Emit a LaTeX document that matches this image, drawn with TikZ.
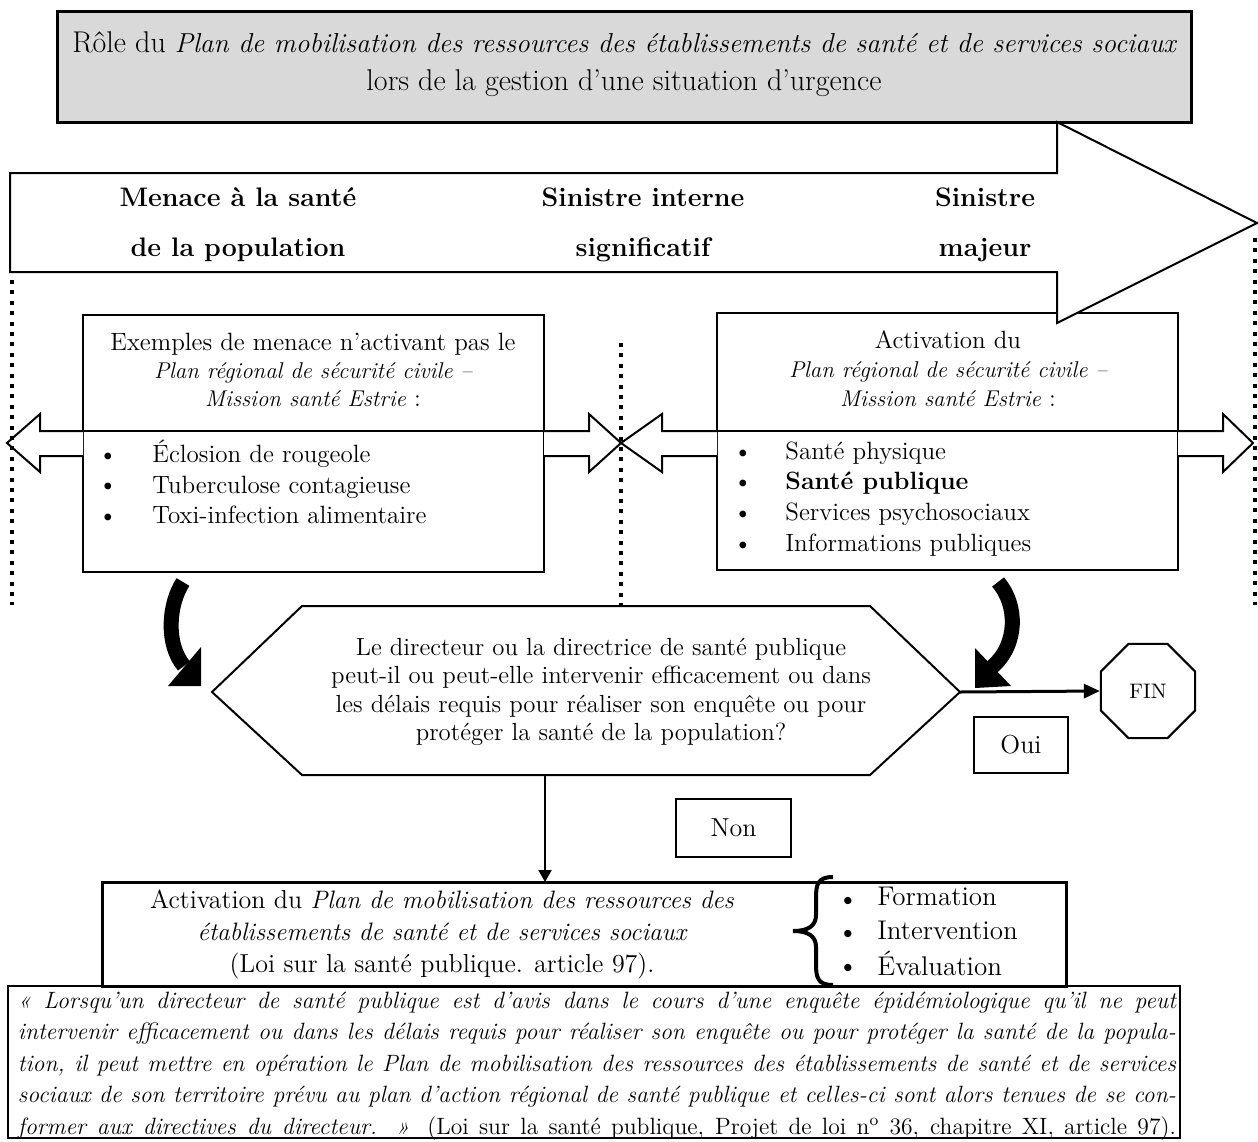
\documentclass[tikz,border=0pt]{standalone}
\usepackage{fontspec}
\usetikzlibrary{shapes.geometric,arrows.meta}
\definecolor{titlegray}{RGB}{217,217,217}
\newcommand{\fsz}[2]{\fontsize{#1}{#2}\selectfont}
\newcommand{\qline}[1]{\makebox[579pt][s]{\spaceskip=0pt\xspaceskip=0pt\strut #1}}
\tikzset{
  box/.style={draw=black,line width=1pt},
  thickbox/.style={draw=black,line width=1.5pt},
  blockarrow/.style={draw=black,line width=1pt,fill=white,line join=miter},
  dotline/.style={line width=2pt,dash pattern=on 2pt off 3.2pt},
  curvedshaft/.style={line width=7.5pt},
  txt/.style={inner sep=0pt,align=center},
  listtxt/.style={inner sep=0pt,align=left,anchor=west},
}
\begin{document}
\begin{tikzpicture}[x=0.5pt,y=-0.5pt]
\useasboundingbox (0,0) rectangle (1258,1141);
% title
\draw[thickbox,fill=titlegray] (57,11) rectangle (1191,122);
\node[txt,font={\fsz{15}{19}}] (title) at (624,64)
  {Rôle du {\fsz{13.7}{19}\itshape Plan de mobilisation des ressources des établissements de santé et de services sociaux}\\lors de la gestion d’une situation d’urgence};
% boxes
\draw[box] (83,315) rectangle (544,572);
\draw[box] (83,431) -- (544,431);
\draw[box] (717,313) rectangle (1178,570);
\draw[box] (717,431) -- (1178,431);
% big arrow
\draw[blockarrow] (10,173) -- (1057,173) -- (1057,122) -- (1257,223) -- (1057,323) -- (1057,272) -- (10,272) -- cycle;
\node[txt,font={\bfseries\fsz{13.4}{25}}] (h1) at (238,225) {Menace à la santé\\de la population};
\node[txt,font={\bfseries\fsz{13.4}{25}}] (h2) at (643,225) {Sinistre interne\\significatif};
\node[txt,font={\bfseries\fsz{13.4}{25}}] (h3) at (985,225) {Sinistre\\majeur};
% small block arrows
\draw[blockarrow] (83,431) -- (40,431) -- (40,414) -- (7,443) -- (40,472) -- (40,456) -- (83,456);
\draw[blockarrow] (544,431) -- (589,431) -- (589,414) -- (621,443) -- (589,472) -- (589,456) -- (544,456);
\draw[blockarrow] (717,431) -- (662,431) -- (662,414) -- (621,443) -- (662,472) -- (662,456) -- (717,456);
\draw[blockarrow] (1178,431) -- (1223,431) -- (1223,414) -- (1253,443) -- (1223,472) -- (1223,456) -- (1178,456);
% box texts
\node[txt,font={\fsz{12.5}{14}}] (lhead) at (313,370)
  {Exemples de menace n’activant pas le\\{\fsz{11.4}{14}\itshape Plan régional de sécurité civile –}\\{\fsz{11.4}{14}\itshape Mission santé Estrie} :};
\node[listtxt,anchor=center,align=center,font={\fsz{12.5}{15.25}}] (lbul) at (108,486.5)
  {\strut\textbullet\\\strut\textbullet\\\strut\textbullet};
\node[listtxt,font={\fsz{12.5}{15.25}}] (llist) at (152,486.5)
  {\strut Éclosion de rougeole\\\strut Tuberculose contagieuse\\\strut Toxi-infection alimentaire};
\node[txt,font={\fsz{12.5}{14.5}}] (rhead) at (948,369)
  {Activation du\\{\fsz{11.4}{14.5}\itshape Plan régional de sécurité civile –}\\{\fsz{11.4}{14.5}\itshape Mission santé Estrie} :};
\node[listtxt,anchor=center,align=center,font={\fsz{12.5}{15.35}}] (rbul) at (743,499)
  {\strut\textbullet\\\strut\textbullet\\\strut\textbullet\\\strut\textbullet};
\node[listtxt,font={\fsz{12.5}{15.35}}] (rlist) at (785,499)
  {\strut Santé physique\\\strut\textbf{Santé publique}\\\strut Services psychosociaux\\\strut Informations publiques};
% curved arrows
\draw[curvedshaft] (183,582) .. controls (168,605) and (166,645) .. (184,666);
\fill (168,686) -- (201,647) -- (201,686) -- cycle;
\draw[curvedshaft] (998,582) .. controls (1018,605) and (1018,645) .. (992,667);
\fill (975,648) -- (975,688) -- (1011,686) -- cycle;
% hexagon
\draw[box] (212,692) -- (302,606) -- (870,606) -- (960,692) -- (870,775) -- (302,775) -- cycle;
\node[txt,font={\fsz{12.4}{14.25}}] (question) at (601,692)
  {Le directeur ou la directrice de santé publique\\peut-il ou peut-elle intervenir efficacement ou dans\\les délais requis pour réaliser son enquête ou pour\\protéger la santé de la population?};
\coordinate (hexR) at (960,692);
\coordinate (hexB) at (545,775);
% FIN
\node[regular polygon,regular polygon sides=8,draw,line width=1pt,minimum size=51pt,inner sep=0pt,font={\fsz{10.5}{12}}] (fin) at (1148,691) {FIN};
\draw[line width=1.5pt,-{Triangle[length=8pt,width=7pt]}] (hexR) -- (fin.west);
\node[box,minimum width=47pt,minimum height=28pt,inner sep=0pt,font={\fsz{13}{15}}] (oui) at (1021,745) {Oui};
\node[box,minimum width=57.5pt,minimum height=29pt,inner sep=0pt,font={\fsz{13}{15}}] (non) at (733.5,828) {Non};
% bottom boxes
\draw[thickbox] (102,882) rectangle (1066,986);
\coordinate (botTop) at (545,882);
\draw[line width=1pt,-{Triangle[length=6pt,width=6.5pt]}] (hexB) -- (botTop);
\node[txt,font={\fsz{13}{16}}] (act) at (442,934)
  {Activation du {\fsz{12.6}{16}\itshape Plan de mobilisation des ressources des}\\{\fsz{12.6}{16}\itshape établissements de santé et de services sociaux}\\(Loi sur la santé publique. article 97).};
\draw[line width=2pt] (833,877) .. controls (818,877) and (816,884) .. (816,898) -- (816,915)
  .. controls (816,926) and (808,931) .. (793,931)
  .. controls (808,931) and (816,936) .. (816,947) -- (816,964)
  .. controls (816,978) and (818,985) .. (833,985);
\node[listtxt,anchor=center,align=center,font={\fsz{13.5}{16.75}}] (fbul) at (848,934)
  {\strut\textbullet\\\strut\textbullet\\\strut\textbullet};
\node[listtxt,font={\fsz{13.5}{16.75}}] (flist) at (877,934)
  {\strut Formation\\\strut Intervention\\\strut Évaluation};
\draw[box] (8,986) rectangle (1180,1138);
\node[inner sep=0pt,text width=579pt,align=left,font={\fsz{11.8}{15.75}}] (quote) at (597,1065)
  {\qline{\itshape « Lorsqu’un directeur de santé publique est d’avis dans le cours d’une enquête épidémiologique qu’il ne peut}\\
   \qline{\itshape intervenir efficacement ou dans les délais requis pour réaliser son enquête ou pour protéger la santé de la popula-}\\
   \qline{\itshape tion, il peut mettre en opération le Plan de mobilisation des ressources des établissements de santé et de services}\\
   \qline{\itshape sociaux de son territoire prévu au plan d’action régional de santé publique et celles-ci sont alors tenues de se con-}\\
   \qline{\textit{former aux directives du directeur. »} (Loi sur la santé publique, Projet de loi n\textsuperscript{o} 36, chapitre XI, article 97).}};
% dotted separators
\draw[dotline] (12,280) -- (12,605);
\draw[dotline] (621,343) -- (621,605);
\draw[dotline] (1255,238) -- (1255,605);
\end{tikzpicture}
\end{document}
